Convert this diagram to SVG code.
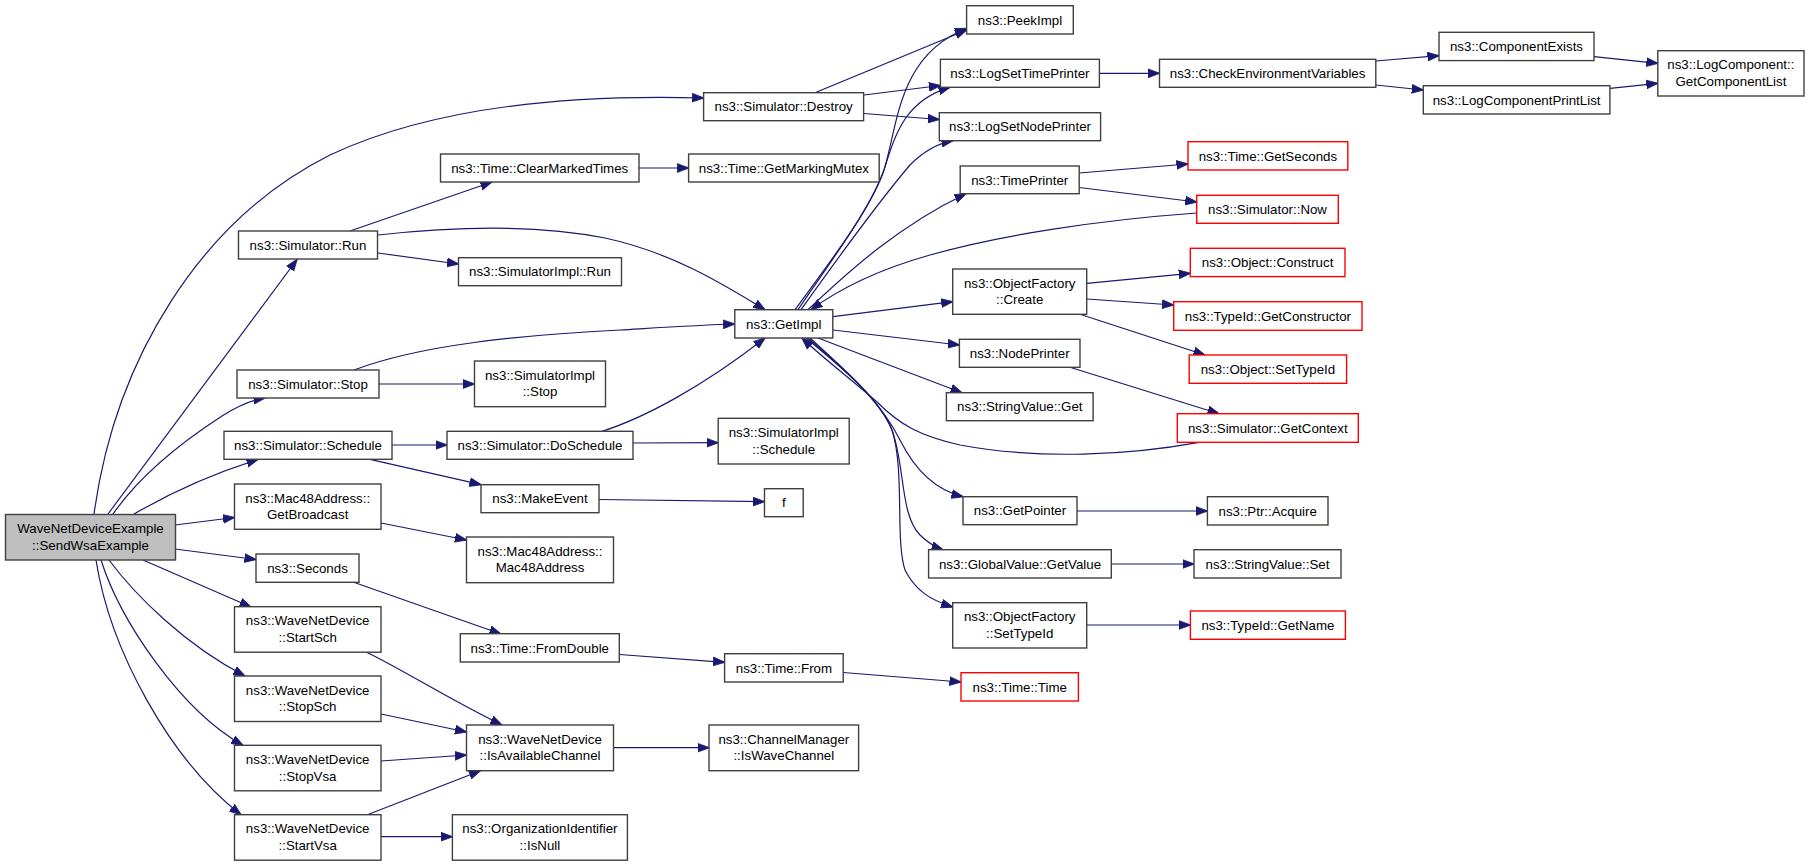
<svg xmlns="http://www.w3.org/2000/svg" width="1811" height="865" viewBox="0 0 1811 865">
<defs>
<marker id="ah" markerUnits="userSpaceOnUse" markerWidth="12" markerHeight="10" viewBox="0 0 12 10" refX="11.5" refY="5" orient="auto">
<path d="M0,0.6 L12,5 L0,9.4 z" fill="#191970" stroke="#191970" stroke-width="0.8"/>
</marker>
</defs>
<style>
rect{fill:#fff;stroke:#404040;stroke-width:1.4}
rect.red{stroke:#ff0000}
rect.main{fill:#bfbfbf}
text{font-family:"Liberation Sans",Arial,sans-serif;font-size:13.3px;fill:#000;text-anchor:middle}
#edges path{fill:none;stroke:#191970;stroke-width:1.2;marker-end:url(#ah)}
</style>
<rect x="0" y="0" width="1811" height="865" style="fill:#fff;stroke:none"/>
<g id="edges">
<path d="M94,514 C115,360 200,220 330,155 C430,108 560,94 703.6,98"/>
<path d="M108,514 L297,259.5"/>
<path d="M113,514 C140,475 185,440 222,416 C238,406 252,400 265,398"/>
<path d="M134,514 C165,496 205,476 258,459.5"/>
<path d="M175,525 L234.5,517.5"/>
<path d="M175,549 L256,559.5"/>
<path d="M143,560 L251,607"/>
<path d="M109,560 C135,595 185,645 245,676"/>
<path d="M101,560 C120,620 180,710 243,745.3"/>
<path d="M96,560 C110,650 170,760 241,814.7"/>
<path d="M350,231 L492,182"/>
<path d="M378,235 C460,226 540,225 605,238 C670,252 720,282 765,309.7"/>
<path d="M378,253 L458.5,264"/>
<path d="M354,370 C420,345 520,335 620,330 C670,327 700,325 734.8,324"/>
<path d="M379,384 L474.5,384"/>
<path d="M639,168 L688.6,168"/>
<path d="M392,445 L447,445"/>
<path d="M370,459.3 L481,484.7"/>
<path d="M600,432 C645,418 705,385 765,338"/>
<path d="M633,443 L718.2,442.7"/>
<path d="M599,499.5 L764.5,501.7"/>
<path d="M381,523 L466.5,540"/>
<path d="M353,582 L501,634"/>
<path d="M619.5,654.5 L724.6,662.3"/>
<path d="M843.2,672.5 L961,682"/>
<path d="M366,652 C400,668 450,700 502,725"/>
<path d="M381,714 L466.5,732"/>
<path d="M381,761 L466.5,755"/>
<path d="M368,814.5 L480.5,770.7"/>
<path d="M381,836.7 L452.4,836.7"/>
<path d="M613.5,747.7 L709,747.7"/>
<path d="M815,92.7 L966.6,30"/>
<path d="M864,95 L940.4,85.5"/>
<path d="M864,113.5 L939.3,119.5"/>
<path d="M795,309.7 C830,262 870,210 884,170 C898,125 898,55 966.6,28.5"/>
<path d="M798,309.7 C830,262 870,210 884,170 C895,135 905,100 950,87.3"/>
<path d="M801,309.7 C840,255 880,200 910,165 C925,150 940,143 953,140.7"/>
<path d="M808,309.7 C850,270 900,225 966,193.7"/>
<path d="M1196.7,213 C1100,220 1000,235 930,255 C870,272 835,292 811,309.7"/>
<path d="M1079.2,173 L1188,164"/>
<path d="M1079.2,187.5 L1196.7,202"/>
<path d="M1099.4,73.3 L1159.5,73.3"/>
<path d="M1375.8,61 L1439,55.7"/>
<path d="M1375.8,85 L1423.3,90"/>
<path d="M1594,56.7 L1657.8,63.3"/>
<path d="M1610,88.3 L1657.8,83.3"/>
<path d="M832.9,316.7 L952.7,301.7"/>
<path d="M832.9,330 L959.4,345"/>
<path d="M818,338 L962,392.7"/>
<path d="M1086.8,283.3 L1190.3,273.3"/>
<path d="M1086.8,299 L1173.7,305"/>
<path d="M1080,314.3 L1205,355"/>
<path d="M1070,367.3 L1219,413.7"/>
<path d="M1199,442.3 C1130,455 1040,460 960,445 C920,436 900,425 877,402 C850,378 825,360 802,338"/>
<path d="M810,338 C845,370 880,400 900,440 C915,470 935,490 963,496.7"/>
<path d="M808,338 C845,370 880,400 892,430 C905,465 900,515 920,535 C928,543 935,547 943,549.7"/>
<path d="M806,338 C845,370 880,400 892,430 C905,470 895,540 905,570 C915,590 930,600 952.7,607"/>
<path d="M1077,511 L1207.4,511"/>
<path d="M1111.3,564 L1194,564"/>
<path d="M1086.8,625 L1190.4,625"/>
</g>
<g id="n_main"><rect class="main" x="5.5" y="514.5" width="170" height="45.5"/><text x="90.5" y="532.8">WaveNetDeviceExample</text><text x="90.5" y="549.5">::SendWsaExample</text></g>
<g id="n_run"><rect x="238.5" y="231" width="139" height="28"/><text x="308" y="249.7">ns3::Simulator::Run</text></g>
<g id="n_clear"><rect x="440.5" y="154" width="198.5" height="28"/><text x="539.7" y="172.7">ns3::Time::ClearMarkedTimes</text></g>
<g id="n_simimplrun"><rect x="458.5" y="257.7" width="163" height="28"/><text x="540" y="276.4">ns3::SimulatorImpl::Run</text></g>
<g id="n_stop"><rect x="237" y="370" width="142" height="28"/><text x="308" y="388.7">ns3::Simulator::Stop</text></g>
<g id="n_simimplstop"><rect x="474.5" y="361" width="131" height="45.7"/><text x="540" y="379.5">ns3::SimulatorImpl</text><text x="540" y="396.2">::Stop</text></g>
<g id="n_schedule"><rect x="224" y="431.3" width="168" height="28"/><text x="308" y="450">ns3::Simulator::Schedule</text></g>
<g id="n_doschedule"><rect x="447" y="431.3" width="186" height="28"/><text x="540" y="450">ns3::Simulator::DoSchedule</text></g>
<g id="n_makeevent"><rect x="481" y="484.7" width="118" height="28"/><text x="540" y="503.4">ns3::MakeEvent</text></g>
<g id="n_getbroadcast"><rect x="234.5" y="484" width="146.5" height="45.3"/><text x="307.7" y="502.5">ns3::Mac48Address::</text><text x="307.7" y="519.2">GetBroadcast</text></g>
<g id="n_mac48"><rect x="466.5" y="537" width="147" height="45.7"/><text x="540" y="555.5">ns3::Mac48Address::</text><text x="540" y="572.2">Mac48Address</text></g>
<g id="n_seconds"><rect x="256" y="554" width="103" height="28.3"/><text x="307.5" y="572.8">ns3::Seconds</text></g>
<g id="n_startsch"><rect x="234.5" y="606.7" width="146.5" height="45.5"/><text x="307.7" y="625.2">ns3::WaveNetDevice</text><text x="307.7" y="641.9">::StartSch</text></g>
<g id="n_stopsch"><rect x="234.5" y="676" width="146.5" height="45.5"/><text x="307.7" y="694.5">ns3::WaveNetDevice</text><text x="307.7" y="711.2">::StopSch</text></g>
<g id="n_stopvsa"><rect x="234.5" y="745.3" width="146.5" height="45.5"/><text x="307.7" y="763.8">ns3::WaveNetDevice</text><text x="307.7" y="780.5">::StopVsa</text></g>
<g id="n_startvsa"><rect x="234.5" y="814.7" width="146.5" height="45.5"/><text x="307.7" y="833.2">ns3::WaveNetDevice</text><text x="307.7" y="849.9">::StartVsa</text></g>
<g id="n_fromdouble"><rect x="460.3" y="633.7" width="159" height="28.3"/><text x="539.8" y="652.5">ns3::Time::FromDouble</text></g>
<g id="n_isavail"><rect x="466.5" y="725" width="147" height="45.7"/><text x="540" y="743.5">ns3::WaveNetDevice</text><text x="540" y="760.2">::IsAvailableChannel</text></g>
<g id="n_isnull"><rect x="452.4" y="814.7" width="175" height="45.5"/><text x="539.9" y="833.2">ns3::OrganizationIdentifier</text><text x="539.9" y="849.9">::IsNull</text></g>
<g id="n_peekimpl"><rect x="966.6" y="5.7" width="106.7" height="28.3"/><text x="1020" y="24.5">ns3::PeekImpl</text></g>
<g id="n_logsettime"><rect x="940.4" y="59.3" width="159" height="28"/><text x="1019.9" y="78">ns3::LogSetTimePrinter</text></g>
<g id="n_checkenv"><rect x="1159.5" y="59.3" width="216.3" height="28"/><text x="1267.6" y="78">ns3::CheckEnvironmentVariables</text></g>
<g id="n_destroy"><rect x="703.6" y="92.7" width="160" height="28"/><text x="783.6" y="111.4">ns3::Simulator::Destroy</text></g>
<g id="n_logsetnode"><rect x="939.3" y="112.7" width="161.3" height="28"/><text x="1020" y="131.4">ns3::LogSetNodePrinter</text></g>
<g id="n_markingmutex"><rect x="688.6" y="154" width="190.6" height="28"/><text x="783.9" y="172.7">ns3::Time::GetMarkingMutex</text></g>
<g id="n_timeprinter"><rect x="960.2" y="166" width="119" height="27.7"/><text x="1019.7" y="184.6">ns3::TimePrinter</text></g>
<g id="n_getseconds"><rect class="red" x="1188" y="141.7" width="159.8" height="28.3"/><text x="1267.9" y="160.5">ns3::Time::GetSeconds</text></g>
<g id="n_now"><rect class="red" x="1196.7" y="195.3" width="141.6" height="28"/><text x="1267.5" y="214">ns3::Simulator::Now</text></g>
<g id="n_construct"><rect class="red" x="1190.3" y="248.3" width="154.7" height="28.3"/><text x="1267.6" y="267.1">ns3::Object::Construct</text></g>
<g id="n_create"><rect x="952.7" y="269" width="134" height="45.3"/><text x="1019.7" y="287.5">ns3::ObjectFactory</text><text x="1019.7" y="304.2">::Create</text></g>
<g id="n_compexists"><rect x="1439" y="32.3" width="155" height="28.3"/><text x="1516.5" y="51.1">ns3::ComponentExists</text></g>
<g id="n_logcompprint"><rect x="1423.3" y="85.7" width="186.6" height="28.3"/><text x="1516.6" y="104.5">ns3::LogComponentPrintList</text></g>
<g id="n_getcomplist"><rect x="1657.8" y="50.7" width="146.2" height="45.3"/><text x="1730.9" y="69.2">ns3::LogComponent::</text><text x="1730.9" y="85.9">GetComponentList</text></g>
<g id="n_getimpl"><rect x="734.8" y="309.7" width="98" height="28.3"/><text x="783.8" y="328.5">ns3::GetImpl</text></g>
<g id="n_getconstructor"><rect class="red" x="1173.7" y="301.7" width="188.3" height="28.6"/><text x="1267.9" y="320.6">ns3::TypeId::GetConstructor</text></g>
<g id="n_objsettypeid"><rect class="red" x="1189.2" y="355" width="157.4" height="28.3"/><text x="1267.9" y="373.8">ns3::Object::SetTypeId</text></g>
<g id="n_nodeprinter"><rect x="959.4" y="339.3" width="120.6" height="28"/><text x="1019.7" y="358">ns3::NodePrinter</text></g>
<g id="n_strget"><rect x="946.4" y="392.7" width="146.7" height="28"/><text x="1019.8" y="411.4">ns3::StringValue::Get</text></g>
<g id="n_getcontext"><rect class="red" x="1177.3" y="413.7" width="181" height="28.6"/><text x="1267.8" y="432.6">ns3::Simulator::GetContext</text></g>
<g id="n_simimplsched"><rect x="718.2" y="418.3" width="131" height="45.7"/><text x="783.7" y="436.8">ns3::SimulatorImpl</text><text x="783.7" y="453.5">::Schedule</text></g>
<g id="n_f"><rect x="764.5" y="488.7" width="38.7" height="28"/><text x="783.9" y="507.4">f</text></g>
<g id="n_getpointer"><rect x="963" y="496.7" width="114" height="28"/><text x="1020" y="515.4">ns3::GetPointer</text></g>
<g id="n_acquire"><rect x="1207.4" y="496.7" width="120.6" height="28.3"/><text x="1267.7" y="515.5">ns3::Ptr::Acquire</text></g>
<g id="n_getvalue"><rect x="928.6" y="549.7" width="182.7" height="28.3"/><text x="1020" y="568.5">ns3::GlobalValue::GetValue</text></g>
<g id="n_strset"><rect x="1194" y="549.7" width="147" height="28.3"/><text x="1267.5" y="568.5">ns3::StringValue::Set</text></g>
<g id="n_ofsettypeid"><rect x="952.7" y="602.7" width="134" height="45.3"/><text x="1019.7" y="621.2">ns3::ObjectFactory</text><text x="1019.7" y="637.9">::SetTypeId</text></g>
<g id="n_getname"><rect class="red" x="1190.4" y="611" width="155" height="28.3"/><text x="1267.9" y="629.8">ns3::TypeId::GetName</text></g>
<g id="n_timefrom"><rect x="724.6" y="653.7" width="118.6" height="28.3"/><text x="783.9" y="672.5">ns3::Time::From</text></g>
<g id="n_timetime"><rect class="red" x="961" y="672.7" width="117.4" height="28.3"/><text x="1019.7" y="691.5">ns3::Time::Time</text></g>
<g id="n_iswave"><rect x="709" y="725" width="149.6" height="45.7"/><text x="783.8" y="743.5">ns3::ChannelManager</text><text x="783.8" y="760.2">::IsWaveChannel</text></g>
</svg>
